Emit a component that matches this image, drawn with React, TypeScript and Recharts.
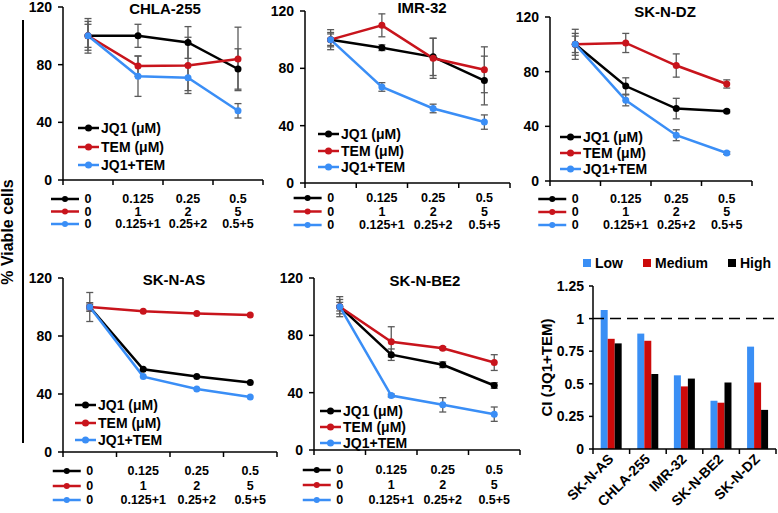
import React from "react";
import {
  Bar,
  BarChart,
  ErrorBar,
  Legend,
  Line,
  LineChart,
  ReferenceLine,
  XAxis,
  YAxis,
} from "recharts";

const FONT = '"Liberation Sans", Arial, Helvetica, sans-serif';
const BLACK = "#000000";
const RED = "#c8141c";
const BLUE = "#3a8ef6";
const ERR = "#5a5a5a";

// dose labels under each viability panel
const jq1Doses = ["0", "0.125", "0.25", "0.5"];
const temDoses = ["0", "1", "2", "5"];
const comboDoses = ["0", "0.125+1", "0.25+2", "0.5+5"];
const viabilityTicks = [0, 40, 80, 120];
const seriesNames = ["JQ1 (μM)", "TEM (μM)", "JQ1+TEM"];

// CHLA-255
const chlaJq1 = [100, 100, 95.4, 77];
const chlaJq1Err = [12, 8, 11, 14];
const chlaTem = [100, 79, 79.5, 84];
const chlaTemErr = [10, 7, 19.5, 22];
const chlaCombo = [100, 72, 71, 48];
const chlaComboErr = [8, 14, 9, 5];

// IMR-32
const imrJq1 = [100, 94.4, 88, 71.5];
const imrJq1Err = [7, 2, 13, 17];
const imrTem = [100, 110, 87, 79];
const imrTemErr = [5, 8, 14, 16];
const imrCombo = [100, 67, 52, 42.5];
const imrComboErr = [4, 3, 3, 5];

// SK-N-DZ
const dzJq1 = [100, 69.5, 53, 51];
const dzJq1Err = [11, 6, 7.5, 1];
const dzTem = [100, 101, 84.5, 71];
const dzTemErr = [8, 7, 8.5, 3];
const dzCombo = [100, 59, 33.5, 20.5];
const dzComboErr = [6, 4, 4, 1];

// SK-N-AS
const asJq1 = [100, 57, 52, 48];
const asJq1Err = [10, 0, 0, 0];
const asTem = [100, 97, 95.5, 94.5];
const asTemErr = [2, 0, 0, 0];
const asCombo = [100, 52, 43.5, 38];
const asComboErr = [3, 0, 0, 0];

// SK-N-BE2
const be2Jq1 = [100, 66.5, 59.5, 45];
const be2Jq1Err = [7, 4, 2, 2];
const be2Tem = [100, 75.5, 71, 61];
const be2TemErr = [5, 10.5, 1, 5.5];
const be2Combo = [100, 38, 31.5, 25];
const be2ComboErr = [3, 1, 5, 5];

// combination index
const ciCells = ["SK-N-AS", "CHLA-255", "IMR-32", "SK-N-BE2", "SK-N-DZ"];
const ciLevels = ["Low", "Medium", "High"];
const ciLow = [1.065, 0.885, 0.565, 0.37, 0.785];
const ciMedium = [0.845, 0.83, 0.48, 0.355, 0.51];
const ciHigh = [0.81, 0.575, 0.54, 0.51, 0.3];
const ciTicks = [0, 0.25, 0.5, 0.75, 1, 1.25];

type Panel = {
  title: string;
  jq1: number[];
  jq1Err: number[];
  tem: number[];
  temErr: number[];
  combo: number[];
  comboErr: number[];
  axisX: number;
  top: number;
  bottom: number;
  right: number;
  titleAt: [number, number];
  legendAt: [number, number, number];
  rows: number[];
};

const panels: Panel[] = [
  {
    title: "CHLA-255",
    jq1: chlaJq1, jq1Err: chlaJq1Err, tem: chlaTem, temErr: chlaTemErr, combo: chlaCombo, comboErr: chlaComboErr,
    axisX: 63, top: 7, bottom: 180, right: 263,
    titleAt: [165, 9], legendAt: [78, 128, 18.5], rows: [19, 31.5, 44],
  },
  {
    title: "IMR-32",
    jq1: imrJq1, jq1Err: imrJq1Err, tem: imrTem, temErr: imrTemErr, combo: imrCombo, comboErr: imrComboErr,
    axisX: 305, top: 11, bottom: 183, right: 510,
    titleAt: [422, 8], legendAt: [318, 134, 16.5], rows: [15, 28.5, 42],
  },
  {
    title: "SK-N-DZ",
    jq1: dzJq1, jq1Err: dzJq1Err, tem: dzTem, temErr: dzTemErr, combo: dzCombo, comboErr: dzComboErr,
    axisX: 550, top: 17, bottom: 181, right: 752,
    titleAt: [665, 12], legendAt: [560, 137, 16], rows: [18, 31, 44],
  },
  {
    title: "SK-N-AS",
    jq1: asJq1, jq1Err: asJq1Err, tem: asTem, temErr: asTemErr, combo: asCombo, comboErr: asComboErr,
    axisX: 63, top: 278, bottom: 452, right: 277,
    titleAt: [174, 280], legendAt: [75, 405, 17.5], rows: [19, 34, 48],
  },
  {
    title: "SK-N-BE2",
    jq1: be2Jq1, jq1Err: be2Jq1Err, tem: be2Tem, temErr: be2TemErr, combo: be2Combo, comboErr: be2ComboErr,
    axisX: 314, top: 278, bottom: 450, right: 520,
    titleAt: [425, 281], legendAt: [320, 411, 16], rows: [20, 35, 50],
  },
];

const bold = { fontFamily: FONT, fontWeight: "bold" as const };

function ordered(payload: any[] | undefined, names: string[]) {
  return [...(payload ?? [])].sort((a, b) => names.indexOf(a.value) - names.indexOf(b.value));
}

function DoseTick(props: any) {
  const { x, y, band, rows } = props;
  const index = props.index ?? props.payload?.index ?? 0;
  const half = band / 2;
  const labels = [jq1Doses[index], temDoses[index], comboDoses[index]];
  const colors = [BLACK, RED, BLUE];
  return (
    <g>
      <line x1={x - half} x2={x - half} y1={y} y2={y + 5} stroke={BLACK} strokeWidth={1.5} />
      {index === jq1Doses.length - 1 && (
        <line x1={x + half} x2={x + half} y1={y} y2={y + 5} stroke={BLACK} strokeWidth={1.5} />
      )}
      {labels.map((label, r) => (
        <text key={r} x={x} y={y + rows[r]} textAnchor="middle" dominantBaseline="central" fontSize={12.5} fill={BLACK} {...bold}>
          {label}
        </text>
      ))}
      {index === 0 &&
        colors.map((c, r) => (
          <g key={"m" + r}>
            <line x1={x - 37} x2={x - 9} y1={y + rows[r]} y2={y + rows[r]} stroke={c} strokeWidth={2.5} />
            <circle cx={x - 23} cy={y + rows[r]} r={3} fill={c} />
          </g>
        ))}
    </g>
  );
}

function SeriesLegend({ payload, gap }: { payload?: any[]; gap: number }) {
  return (
    <div style={{ ...bold, fontSize: 14, color: BLACK }}>
      {ordered(payload, seriesNames).map((e) => (
        <div key={e.value} style={{ display: "flex", alignItems: "center", height: gap, whiteSpace: "nowrap" }}>
          <svg width={21} height={8} style={{ marginRight: 2 }}>
            <line x1={0} x2={21} y1={4} y2={4} stroke={e.color} strokeWidth={2.5} />
            <circle cx={10.5} cy={4} r={3.5} fill={e.color} />
          </svg>
          <span style={{ lineHeight: 1 }}>{e.value}</span>
        </div>
      ))}
    </div>
  );
}

function ViabilityPanel({ p }: { p: Panel }) {
  const band = (p.right - p.axisX) / jq1Doses.length;
  const data = jq1Doses.map((dose, i) => ({
    dose,
    jq1: p.jq1[i],
    jq1Err: p.jq1Err[i],
    tem: p.tem[i],
    temErr: p.temErr[i],
    combo: p.combo[i],
    comboErr: p.comboErr[i],
  }));
  const yAxisW = 50;
  const mTop = 8;
  const xAxisH = 60;
  const left = p.axisX - yAxisW;
  const top = p.top - mTop;
  const width = yAxisW + (p.right - p.axisX) + 4;
  const height = mTop + (p.bottom - p.top) + xAxisH;
  const [lx, ly, gap] = p.legendAt;

  return (
    <>
      <div
        style={{
          position: "absolute",
          left: p.titleAt[0] - 70,
          top: p.titleAt[1] - 9,
          width: 140,
          height: 18,
          lineHeight: "18px",
          textAlign: "center",
          fontSize: 15,
          ...bold,
        }}
      >
        {p.title}
      </div>
      <div style={{ position: "absolute", left, top }}>
        <LineChart width={width} height={height} data={data} margin={{ top: mTop, right: 4, bottom: 0, left: 0 }}>
          <XAxis
            dataKey="dose"
            interval={0}
            padding={{ left: band / 2, right: band / 2 }}
            height={xAxisH}
            tickLine={false}
            tickSize={0}
            tickMargin={0}
            axisLine={{ stroke: BLACK, strokeWidth: 1.5 }}
            tick={(t: any) => <DoseTick {...t} band={band} rows={p.rows} />}
          />
          <YAxis
            domain={[0, 120]}
            ticks={viabilityTicks}
            width={yAxisW}
            tickSize={5}
            tickMargin={6}
            tick={{ fill: BLACK, fontSize: 14, ...bold }}
            tickLine={{ stroke: BLACK, strokeWidth: 1.5 }}
            axisLine={{ stroke: BLACK, strokeWidth: 1.5 }}
          />
          <Line
            dataKey="jq1"
            name={seriesNames[0]}
            stroke={BLACK}
            strokeWidth={2.5}
            dot={{ r: 3.5, fill: BLACK, stroke: BLACK, strokeWidth: 0 }}
            activeDot={false}
            isAnimationActive={false}
          >
            <ErrorBar dataKey="jq1Err" width={3.5} stroke={ERR} strokeWidth={1.3} direction="y" />
          </Line>
          <Line
            dataKey="tem"
            name={seriesNames[1]}
            stroke={RED}
            strokeWidth={2.5}
            dot={{ r: 3.5, fill: RED, stroke: RED, strokeWidth: 0 }}
            activeDot={false}
            isAnimationActive={false}
          >
            <ErrorBar dataKey="temErr" width={3.5} stroke={ERR} strokeWidth={1.3} direction="y" />
          </Line>
          <Line
            dataKey="combo"
            name={seriesNames[2]}
            stroke={BLUE}
            strokeWidth={2.5}
            dot={{ r: 3.5, fill: BLUE, stroke: BLUE, strokeWidth: 0 }}
            activeDot={false}
            isAnimationActive={false}
          >
            <ErrorBar dataKey="comboErr" width={3.5} stroke={ERR} strokeWidth={1.3} direction="y" />
          </Line>
          <Legend
            layout="vertical"
            align="center"
            verticalAlign="middle"
            wrapperStyle={{ left: lx - left, top: ly - gap / 2 - top, width: "auto" }}
            content={(props: any) => <SeriesLegend payload={props.payload} gap={gap} />}
          />
        </LineChart>
      </div>
    </>
  );
}

function CellTick(props: any) {
  const { x, y, payload, band } = props;
  const index = props.index ?? payload?.index ?? 0;
  const half = band / 2;
  const ax = x + 3;
  const ay = y + 11;
  return (
    <g>
      <line x1={x - half} x2={x - half} y1={y} y2={y + 5} stroke={BLACK} strokeWidth={1.5} />
      {index === ciCells.length - 1 && (
        <line x1={x + half} x2={x + half} y1={y} y2={y + 5} stroke={BLACK} strokeWidth={1.5} />
      )}
      <text x={ax} y={ay} textAnchor="end" transform={`rotate(-45, ${ax}, ${ay})`} fontSize={14} fill={BLACK} {...bold}>
        {payload.value}
      </text>
    </g>
  );
}

function CiLegend({ payload }: { payload?: any[] }) {
  return (
    <div style={{ display: "flex", alignItems: "center", ...bold, fontSize: 14, color: BLACK, whiteSpace: "nowrap" }}>
      {ordered(payload, ciLevels).map((e) => (
        <div key={e.value} style={{ display: "flex", alignItems: "center", marginRight: 20 }}>
          <span style={{ display: "inline-block", width: 8, height: 8, background: e.color, marginRight: 4 }} />
          <span style={{ lineHeight: "18px" }}>{e.value}</span>
        </div>
      ))}
    </div>
  );
}

function CiChart() {
  const data = ciCells.map((cell, i) => ({ cell, low: ciLow[i], medium: ciMedium[i], high: ciHigh[i] }));
  const left = 501;
  const top = 250;
  const yAxisW = 92;
  const plotW = 776 - 593;
  const band = plotW / ciCells.length;
  return (
    <div style={{ position: "absolute", left, top }}>
      <BarChart
        width={yAxisW + plotW + 2}
        height={36 + (449 - 286) + 64}
        data={data}
        margin={{ top: 36, right: 2, bottom: 0, left: 0 }}
        barCategoryGap="21%"
        barGap={0}
      >
        <XAxis
          dataKey="cell"
          interval={0}
          height={64}
          tickLine={false}
          tickSize={0}
          tickMargin={0}
          axisLine={{ stroke: BLACK, strokeWidth: 1.5 }}
          tick={(t: any) => <CellTick {...t} band={band} />}
        />
        <YAxis
          domain={[0, 1.25]}
          ticks={ciTicks}
          width={yAxisW}
          tickSize={4}
          tickMargin={5}
          tick={{ fill: BLACK, fontSize: 14, ...bold }}
          tickLine={{ stroke: BLACK, strokeWidth: 1.5 }}
          axisLine={{ stroke: BLACK, strokeWidth: 1.5 }}
          label={{ value: "CI (JQ1+TEM)", angle: -90, position: "center", fill: BLACK, fontSize: 15, ...bold }}
        />
        <ReferenceLine y={1} stroke={BLACK} strokeWidth={1.5} strokeDasharray="11 6" />
        <Bar dataKey="low" name={ciLevels[0]} fill="#3a8ff5" isAnimationActive={false} />
        <Bar dataKey="medium" name={ciLevels[1]} fill="#cc0a0a" isAnimationActive={false} />
        <Bar dataKey="high" name={ciLevels[2]} fill={BLACK} isAnimationActive={false} />
        <Legend
          layout="horizontal"
          align="center"
          verticalAlign="middle"
          wrapperStyle={{ left: 583 - left, top: 263 - 9 - top, width: "auto" }}
          content={(props: any) => <CiLegend payload={props.payload} />}
        />
      </BarChart>
    </div>
  );
}

export default function App() {
  return (
    <div
      style={{
        position: "absolute",
        left: 0,
        top: 0,
        width: 778,
        height: 513,
        overflow: "hidden",
        background: "#ffffff",
        fontFamily: FONT,
      }}
    >
      <div style={{ position: "absolute", left: 22, top: 20, width: 2, height: 423, background: BLACK }} />
      <div
        style={{
          position: "absolute",
          left: 8 - 70,
          top: 232 - 9,
          width: 140,
          height: 18,
          lineHeight: "18px",
          textAlign: "center",
          transform: "rotate(-90deg)",
          fontSize: 16,
          ...bold,
        }}
      >
        % Viable cells
      </div>
      {panels.map((p) => (
        <ViabilityPanel key={p.title} p={p} />
      ))}
      <CiChart />
    </div>
  );
}
